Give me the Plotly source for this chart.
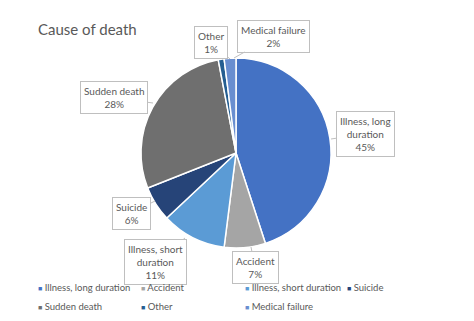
import textwrap
import plotly.graph_objects as go

W, H = 474, 321

categories = ["Illness, long duration", "Accident", "Illness, short duration",
              "Suicide", "Sudden death", "Other", "Medical failure"]
values = [45, 7, 11, 6, 28, 1, 2]
colors = ["#4472C4", "#A5A5A5", "#5B9BD5", "#264478", "#6F6F6F", "#255E91", "#698ED0"]
title_text = "Cause of death"

TXT = "#595959"
FONT = "Lato, 'Open Sans', sans-serif"

# pie geometry (pixels)
cx, cy, r = 236, 153, 95

fig = go.Figure(go.Pie(
    labels=categories, values=values, sort=False, direction="clockwise",
    rotation=0, textinfo="none", hoverinfo="label+percent",
    marker=dict(colors=colors, line=dict(color="white", width=1.5)),
    domain=dict(x=[(cx - r) / W, (cx + r) / W], y=[1 - (cy + r) / H, 1 - (cy - r) / H]),
    showlegend=False,
))

# callout layout: box centre and tail tip, pixels
callouts = {
    "Illness, long duration": (365, 134, 331, 139),
    "Accident": (255, 267, 251, 247),
    "Illness, short duration": (155, 262, 185, 238),
    "Suicide": (131, 213, 155, 201),
    "Sudden death": (114, 98, 153, 103),
    "Other": (211, 42, 230, 59),
    "Medical failure": (273, 36, 234, 58),
}
total = sum(values)
annotations = []
for cat, v in zip(categories, values):
    bx, by, tx, ty = callouts[cat]
    pct = round(v / total * 100)
    text = "<br>".join(textwrap.wrap(cat, 15) + [f"{pct}%"])
    annotations.append(dict(
        x=tx / W, y=1 - ty / H, xref="paper", yref="paper",
        ax=bx - tx, ay=by - ty, showarrow=True, arrowhead=0, arrowwidth=1,
        arrowcolor="#BFBFBF", standoff=0, text=text, align="center",
        font=dict(family=FONT, size=10, color=TXT),
        bgcolor="white", bordercolor="#BFBFBF", borderwidth=1, borderpad=3,
    ))

# legend built as text rows
leg_x = [36, 139, 243, 345]
leg_y = [287, 306]
for i, (cat, col) in enumerate(zip(categories, colors)):
    row, c = divmod(i, 4)
    annotations.append(dict(
        x=leg_x[c] / W, y=1 - leg_y[row] / H, xref="paper", yref="paper",
        xanchor="left", yanchor="middle", showarrow=False,
        text=f"<span style='color:{col};font-size:7px'>■</span> {cat}",
        font=dict(family=FONT, size=9.5, color=TXT),
    ))

fig.update_layout(
    width=W, height=H, margin=dict(l=0, r=0, t=0, b=0),
    paper_bgcolor="white", plot_bgcolor="white",
    title=dict(text=title_text, x=38 / W, xanchor="left", y=1 - 30 / H, yanchor="middle",
               font=dict(family=FONT, size=15, color=TXT)),
    annotations=annotations,
)

fig.write_html("out.html")
